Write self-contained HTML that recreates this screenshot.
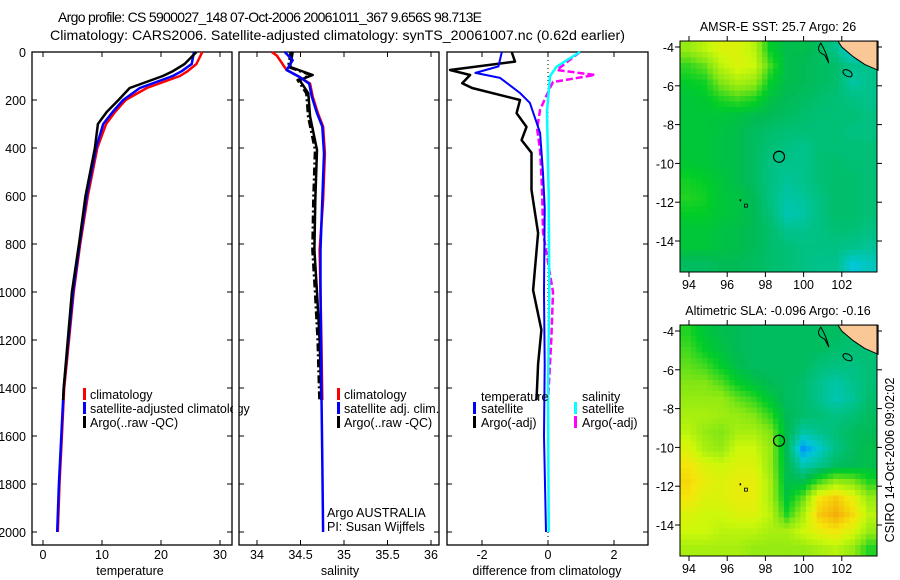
<!DOCTYPE html>
<html><head><meta charset="utf-8"><style>
body{margin:0;background:#fff}
svg{display:block;font-family:"Liberation Sans",sans-serif}
text{font-size:12.5px;fill:#000}
</style></head><body>
<svg id="s" width="900" height="580" viewBox="0 0 900 580"></svg>
<script>
// ---------- data ----------
const depthTicks=[0,200,400,600,800,1000,1200,1400,1600,1800,2000];
const tempTicks=[0,10,20,30];
const salTicks=[34,34.5,35,35.5,36];
const diffTicks=[-2,0,2];
const mapLonTicks=[94,96,98,100,102];
const mapLatTicks=[-4,-6,-8,-10,-12,-14];
const tempClim=[[0,27],[50,26],[80,24.5],[100,23.2],[150,17.6],[200,14],[250,12.2],[300,10.7],[400,9.2],[500,8.4],[600,7.6],[800,6.3],[1000,5.2],[1200,4.4],[1400,3.6],[1600,3.2],[1800,2.8],[2000,2.5]];
const tempSat=[[0,25.6],[50,25.2],[80,23.5],[100,22],[150,16.4],[200,13.6],[250,11.8],[300,10.2],[400,9],[500,8.2],[600,7.4],[800,6.2],[1000,5.1],[1200,4.3],[1400,3.5],[1600,3.1],[1800,2.7],[2000,2.4]];
const tempArgo=[[0,26],[50,24],[80,22],[100,20.3],[150,14.7],[200,12.8],[250,10.8],[300,9.3],[400,8.8],[500,8],[600,7.2],[800,6.1],[1000,4.9],[1200,4.2],[1400,3.5],[1450,3.4]];
const salClim=[[0,34.17],[16,34.23],[75,34.34],[104,34.49],[132,34.61],[186,34.64],[255,34.7],[311,34.76],[422,34.78],[617,34.76],[825,34.72],[1000,34.73],[1200,34.74],[1450,34.75]];
const salSat=[[0,34.32],[34,34.41],[75,34.34],[104,34.49],[132,34.6],[186,34.63],[255,34.69],[311,34.75],[422,34.77],[617,34.75],[825,34.73],[1000,34.73],[1400,34.74],[1700,34.75],[2000,34.76]];
const salArgo=[[0,34.41],[62,34.38],[96,34.64],[117,34.49],[172,34.59],[269,34.61],[408,34.69],[617,34.67],[825,34.66],[1000,34.69],[1200,34.72],[1450,34.74]];
const dTempSat=[[0,-1.4],[60,-1.5],[87,-2.2],[108,-1.45],[171,-0.85],[212,-0.55],[337,-0.24],[504,-0.15],[650,-0.1],[1000,-0.12],[1300,-0.1],[1600,-0.12],[2000,-0.06]];
const dTempArgo=[[0,-1.1],[40,-1.0],[75,-2.97],[96,-2.36],[130,-2.6],[150,-2.3],[200,-0.85],[255,-0.95],[312,-0.65],[367,-0.8],[420,-0.5],[575,-0.5],[754,-0.3],[992,-0.45],[1158,-0.2],[1300,-0.3],[1450,-0.35]];
const dSalSat=[[0,0.97],[60,0.27],[100,0.06],[250,-0.03],[600,0.02],[1000,0.04],[1400,0],[2000,0.02]];
const dSalArgo=[[0,0.97],[75,0.27],[96,1.42],[125,0.15],[150,0.06],[240,-0.24],[320,-0.33],[410,-0.24],[575,-0.18],[750,-0.15],[1000,0.15],[1200,0.1],[1450,0]];
const sstGrid=[
[.62,.66,.70,.70,.66,.52,.48,.48,.46,.42,.35,.42],
[.55,.58,.66,.70,.68,.56,.48,.47,.46,.45,.42,.42],
[.52,.53,.60,.64,.62,.52,.48,.47,.46,.45,.40,.42],
[.50,.51,.54,.56,.54,.49,.47,.46,.45,.44,.43,.42],
[.50,.50,.50,.49,.48,.47,.46,.45,.44,.44,.44,.43],
[.50,.50,.49,.48,.46,.45,.44,.44,.44,.44,.43,.43],
[.50,.50,.49,.48,.46,.44,.43,.42,.44,.44,.44,.44],
[.51,.50,.49,.48,.46,.43,.42,.42,.44,.45,.44,.44],
[.53,.52,.50,.48,.46,.43,.41,.42,.44,.45,.45,.44],
[.54,.53,.50,.49,.47,.43,.40,.41,.43,.45,.45,.44],
[.52,.52,.50,.49,.47,.44,.39,.40,.43,.45,.45,.44],
[.50,.50,.49,.48,.47,.45,.42,.42,.43,.44,.44,.43],
[.50,.50,.49,.48,.47,.45,.44,.43,.43,.43,.42,.41],
[.46,.46,.47,.47,.46,.45,.44,.43,.42,.42,.36,.38]];
const slaGrid=[
[.54,.50,.48,.47,.46,.46,.46,.46,.46,.46,.45,.45],
[.56,.52,.49,.47,.46,.46,.46,.46,.46,.45,.44,.44],
[.58,.56,.52,.48,.46,.46,.46,.46,.44,.43,.43,.44],
[.60,.60,.57,.52,.49,.47,.46,.45,.42,.40,.42,.44],
[.62,.62,.62,.58,.55,.50,.46,.45,.42,.39,.41,.45],
[.64,.64,.63,.62,.60,.55,.47,.45,.44,.43,.44,.46],
[.66,.62,.60,.64,.64,.60,.48,.40,.42,.44,.46,.47],
[.70,.64,.62,.68,.68,.62,.47,.31,.37,.43,.46,.48],
[.74,.70,.68,.70,.70,.62,.48,.39,.42,.46,.47,.48],
[.76,.72,.70,.72,.72,.64,.48,.48,.56,.62,.60,.54],
[.74,.70,.70,.72,.72,.64,.50,.58,.74,.78,.72,.62],
[.70,.68,.68,.70,.70,.66,.54,.64,.78,.82,.76,.66],
[.68,.68,.66,.66,.66,.64,.64,.68,.72,.74,.70,.62],
[.64,.64,.64,.64,.62,.62,.62,.62,.64,.66,.62,.54]];
const argoLon=98.713, argoLat=-9.656;

// ---------- helpers ----------
const S=document.getElementById('s');const NS='http://www.w3.org/2000/svg';
function el(t,a,p){const e=document.createElementNS(NS,t);for(const k in a)e.setAttribute(k,a[k]);(p||S).appendChild(e);return e;}
function txt(x,y,s,anchor,p){const e=el('text',{x:x,y:y,'text-anchor':anchor||'middle'},p);e.textContent=s;return e;}
const Y=d=>52+d*0.24;
function frame(x0,x1,name){const r=el('rect',{x:x0,y:52,width:x1-x0,height:493,fill:'none',stroke:'#000','stroke-width':1.3});


depthTicks.forEach(d=>{el('line',{x1:x0,x2:x0+5,y1:Y(d),y2:Y(d),stroke:'#000'});el('line',{x1:x1,x2:x1-5,y1:Y(d),y2:Y(d),stroke:'#000'});});}
function line(data,X,col,w,dash,name){const pts=data.map(p=>X(p[1]).toFixed(1)+','+Y(p[0]).toFixed(1)).join(' ');
const e=el('polyline',{points:pts,fill:'none',stroke:col,'stroke-width':w,'stroke-linejoin':'round'});if(dash)e.setAttribute('stroke-dasharray',dash);

return e;}
function xticks(ticks,X,x0,x1,label,lx){ticks.forEach(t=>{el('line',{x1:X(t),x2:X(t),y1:545,y2:540,stroke:'#000'});el('line',{x1:X(t),x2:X(t),y1:52,y2:57,stroke:'#000'});const e=txt(X(t),559,String(t));

});
const l=txt(lx,575,label);

}
function legbar(x,y,col){el('rect',{x:x,y:y-9,width:3,height:12,fill:col});}

// titles
let t=txt(58,22,'Argo profile: CS 5900027_148 07-Oct-2006 20061011_367 9.656S 98.713E','start');t.style.fontSize='14px';
t.setAttribute('textLength','424');t.setAttribute('lengthAdjust','spacing');


t=txt(50,40,'Climatology: CARS2006. Satellite-adjusted climatology: synTS_20061007.nc (0.62d earlier)','start');t.style.fontSize='14px';
t.setAttribute('textLength','575');t.setAttribute('lengthAdjust','spacingAndGlyphs');



// panel 1
const XT=v=>43+v*5.9;
frame(32,232,'temperature-panel');
depthTicks.forEach(d=>{const e=txt(26,Y(d)+5,String(d),'end');

});
xticks(tempTicks,XT,32,232,'temperature',130);
line(tempClim,XT,'#f00',2.5,null,'temp-climatology-line');
line(tempSat,XT,'#00f',2.5,null,'temp-satellite-line');
line(tempArgo,XT,'#000',2.5,null,'temp-argo-line');
legbar(83,397,'#f00');legbar(83,411,'#00f');legbar(83,425,'#000');
[['climatology',397],['satellite-adjusted climatology',411],['Argo(..raw -QC)',425]].forEach(a=>{const e=txt(90,a[1]+2,a[0],'start');

});

// panel 2
el('rect',{x:233,y:400,width:6,height:20,fill:'#fff'});
const XS=v=>257+(v-34)*87;
frame(239,439,'salinity-panel');
xticks(salTicks,XS,239,439,'salinity',340);
line(salClim,XS,'#f00',2.5,null,'sal-climatology-line');
line(salArgo,v=>XS(v)-2,'#000',2.5,'8,3,2,3','sal-argo-raw-line');
line(salArgo,XS,'#000',2.5,null,'sal-argo-line');
line(salSat,XS,'#00f',2.5,null,'sal-satellite-line');
legbar(337,397,'#f00');legbar(337,411,'#00f');legbar(337,425,'#000');
[['climatology',397],['satellite adj. clim.',411],['Argo(..raw -QC)',425]].forEach(a=>{const e=txt(344,a[1]+2,a[0],'start');

});
t=txt(327,517,'Argo AUSTRALIA','start');
t=txt(327,531,'PI: Susan Wijffels','start');

// panel 3
const XD=v=>548+v*33;
frame(447,648,'difference-panel');
xticks(diffTicks,XD,447,648,'difference from climatology',547);
el('line',{x1:548,x2:548,y1:52,y2:545,stroke:'#000','stroke-dasharray':'1,3'});
line(dTempArgo,XD,'#000',2.5,null,'dtemp-argo-line');
line(dSalArgo,XD,'#f0f',2.5,'7,3','dsal-argo-line');
line(dTempSat,XD,'#00f',2,null,'dtemp-satellite-line');
line(dSalSat,XD,'#0ff',2.5,null,'dsal-satellite-line');
t=txt(481,401,'temperature','start');
t=txt(582,401,'salinity','start');
legbar(473,411,'#00f');legbar(473,425,'#000');legbar(574,411,'#0ff');legbar(574,425,'#f0f');
[[481,'satellite',411],[481,'Argo(-adj)',425],[582,'satellite',411],[582,'Argo(-adj)',425]].forEach(a=>{const e=txt(a[0],a[2]+2,a[1],'start');

});

// maps
const stops=[[.30,[0,140,255]],[.36,[0,200,215]],[.42,[0,195,140]],[.47,[0,187,85]],[.52,[0,205,40]],[.60,[130,230,20]],[.68,[205,248,10]],[.74,[245,230,10]],[.82,[245,175,10]]];
function cmap(v){if(v<=stops[0][0])return 'rgb('+stops[0][1]+')';
for(let i=1;i<stops.length;i++){if(v<=stops[i][0]){const a=stops[i-1],b=stops[i],f=(v-a[0])/(b[0]-a[0]);return 'rgb('+a[1].map((c,k)=>Math.round(c+(b[1][k]-c)*f)).join(',')+')';}}
return 'rgb('+stops[stops.length-1][1]+')';}
function sample(grid,fr,fc){const R=grid.length-1,C=grid[0].length-1;fr=Math.max(0,Math.min(R,fr));fc=Math.max(0,Math.min(C,fc));
const r0=Math.floor(fr),c0=Math.floor(fc),r1=Math.min(R,r0+1),c1=Math.min(C,c0+1),a=fr-r0,b=fc-c0;
return grid[r0][c0]*(1-a)*(1-b)+grid[r0][c1]*(1-a)*b+grid[r1][c0]*a*(1-b)+grid[r1][c1]*a*b;}
function drawMap(grid,top,title,name){
const x0=680,x1=877,h=231;const LX=lon=>689+(lon-94)*19.1;const LY=lat=>top+6+(-4-lat)*19.4;
const g=el('g',{});
const rows=grid.length,cols=grid[0].length,sub=3,nr=rows*sub,nc=cols*sub,cw=(x1-x0)/nc,ch=h/nr;
for(let r=0;r<nr;r++)for(let c=0;c<nc;c++){const v=sample(grid,(r+0.5)/sub-0.5,(c+0.5)/sub-0.5);
const e=el('rect',{x:(x0+c*cw).toFixed(2),y:(top+r*ch).toFixed(2),width:(cw+0.4).toFixed(2),height:(ch+0.4).toFixed(2),fill:cmap(v)},g);

}
el('polygon',{points:[[101.8,-3.7],[103.9,-3.7],[103.9,-5.2],[103.2,-4.9],[102.6,-4.5],[102.0,-4.0]].map(p=>LX(p[0])+','+LY(p[1])).join(' '),fill:'rgb(250,200,150)',stroke:'#000','stroke-width':1},g);
el('path',{d:'M'+LX(100.9)+','+LY(-3.8)+' q-6,8 4,12 l4,8 q-2,-10 -8,-20z',fill:'none',stroke:'#000'},g);
el('ellipse',{cx:LX(102.3),cy:LY(-5.35),rx:5,ry:3,fill:'none',stroke:'#000',transform:'rotate(30 '+LX(102.3)+' '+LY(-5.35)+')'},g);
el('rect',{x:LX(96.9),y:LY(-12.1),width:3,height:3,fill:'none',stroke:'#000','stroke-width':0.8},g);
el('rect',{x:LX(96.65),y:LY(-11.85),width:1.5,height:2,fill:'#000'},g);
const c=el('circle',{cx:LX(argoLon),cy:LY(argoLat),r:5.5,fill:'none',stroke:'#000','stroke-width':1.2},g);

el('rect',{x:x0,y:top,width:x1-x0,height:h,fill:'none',stroke:'#000'},g);
mapLonTicks.forEach(lon=>{el('line',{x1:LX(lon),x2:LX(lon),y1:top,y2:top-5,stroke:'#000'},g);el('line',{x1:LX(lon),x2:LX(lon),y1:top+h,y2:top+h+5,stroke:'#000'},g);
const e=txt(LX(lon),top+h+17,String(lon),'middle',g);});
mapLatTicks.forEach(lat=>{el('line',{x1:x0,x2:x0-5,y1:LY(lat),y2:LY(lat),stroke:'#000'},g);el('line',{x1:x1,x2:x1+5,y1:LY(lat),y2:LY(lat),stroke:'#000'},g);
const e=txt(x0-6,LY(lat)+5,String(lat),'end',g);});
const tt=txt(778,top-10,title,'middle',g);}
drawMap(sstGrid,41,'AMSR-E SST: 25.7  Argo: 26','sst-map');
drawMap(slaGrid,325,'Altimetric SLA: -0.096  Argo: -0.16','sla-map');
t=txt(0,0,'CSIRO 14-Oct-2006 09:02:02');t.setAttribute('transform','translate(894,460) rotate(-90)');


</script>
</body></html>
